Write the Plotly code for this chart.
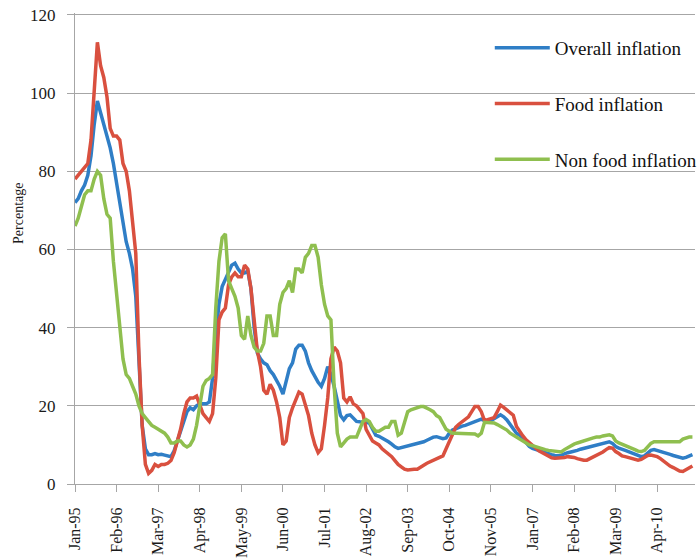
import pandas as pd
import plotly.graph_objects as go

# Month categories (the source series skips Dec-06, so the label after Nov-05 + 13 is Jan-07)
months_a = pd.date_range("1995-01-01", "2006-11-01", freq="MS")
months_b = pd.date_range("2007-01-01", "2011-03-01", freq="MS")
months = [d.strftime("%b-%y") for d in list(months_a) + list(months_b)]

tick_labels = ["Jan-95", "Feb-96", "Mar-97", "Apr-98", "May-99", "Jun-00", "Jul-01",
               "Aug-02", "Sep-03", "Oct-04", "Nov-05", "Jan-07", "Feb-08", "Mar-09", "Apr-10"]
y_ticks = [0, 20, 40, 60, 80, 100, 120]

overall = [72, 73, 75, 76.5, 79, 84, 92, 98, 95, 92,
           89, 86, 82, 77, 72, 66, 62, 59, 55, 48,
           30, 15, 9, 7.5, 7.5, 7.8, 7.5, 7.6, 7.4, 7.2,
           7, 8.5, 11, 13.5, 16, 18.5, 19.5, 19, 20, 20.5,
           20.5, 20.5, 21, 27, 38, 46, 50.5, 52.5, 54, 56,
           56.5, 55, 54, 54, 54.5, 50, 40, 33.5, 32, 31,
           30.5, 29, 28, 26.5, 25, 23, 26, 29.5, 31, 34.5,
           35.5, 35.5, 34, 31, 29, 27.5, 26, 25, 27, 30,
           28, 25, 21, 17.5, 16.4, 17.5, 17.7, 16.8, 16, 15.9,
           15.9, 15.8, 15.6, 14, 12.5, 12.2, 11.8, 11.4, 10.8, 10.2,
           9.5, 9.1, 9.3, 9.5, 9.8, 10, 10.2, 10.4, 10.6, 10.8,
           11.2, 11.6, 12, 12.1, 11.9, 11.6, 11.8, 13, 13.8, 14.2,
           14.5, 14.8, 15, 15.3, 15.6, 15.8, 16.3, 16.6, 16.2, 16,
           16.2, 16.6, 17.2, 17.7, 17.2, 16.4, 15.2, 14, 13, 12.5,
           11.5, 10.5, 9.6, 9.1, 8.8, 8.5, 8.2, 8, 7.8, 7.5,
           7.3, 7.2, 7.4, 7.8, 8, 8.2, 8.3, 8.6, 8.9, 9.1,
           9.3, 9.5, 9.8, 10, 10.3, 10.5, 10.7, 10.8, 10.4, 9.6,
           9.2, 8.8, 8.6, 8.3, 8, 7.6, 7.3, 7, 7.2, 7.9,
           8.6, 8.8, 8.6, 8.3, 8, 7.8, 7.6, 7.3, 7, 6.8,
           6.6, 6.8, 7.2, 7.5]

food = [78, 79, 80, 81, 82, 88, 100, 113, 107, 104,
        99, 91, 89, 89, 88, 82, 80, 75, 67, 59,
        33, 15, 5, 2.7, 3.5, 5, 4.5, 5, 5, 5.3,
        6, 8, 11, 14, 18, 21, 22, 22, 22.5, 20,
        18, 17, 16, 18, 27, 42, 44, 45, 51, 53,
        54, 53, 53, 56, 55, 50, 42, 34, 30, 24,
        23, 25.5, 24, 21, 17, 10, 11, 17, 19.5, 21.5,
        23.5, 23, 20, 17.5, 13, 10, 8, 9, 15, 22,
        32, 35, 34, 31, 22, 21, 22.3, 20.5, 20, 19,
        18, 14, 12.5, 11, 10.5, 10, 9, 8.3, 7.8, 7,
        6, 5, 4.4, 3.8, 3.6, 3.8, 3.8, 3.8, 4.2, 4.8,
        5.3, 5.7, 6.1, 6.6, 7, 7.2, 9, 11, 13, 14.5,
        15.3, 16, 16.5, 17.2, 18.5, 19.8, 19.8, 18.5, 16.2, 16.5,
        16.8, 17, 18.5, 20.2, 19.6, 19, 18.2, 17.6, 14.7, 13.4,
        12.3, 11.3, 10.5, 9.8, 9.2, 8.5, 8, 7.5, 7, 6.7,
        6.6, 6.6, 6.7, 6.8, 7, 7, 6.8, 6.5, 6.2, 6.1,
        6.1, 6.5, 7, 7.4, 7.6, 8.2, 8.8, 9.3, 9.2, 8.3,
        7.8, 7.2, 7, 6.8, 6.5, 6.2, 6.1, 6.3, 6.8, 7.3,
        7.4, 7.3, 7, 6.5, 5.8, 5.2, 4.6, 4.2, 3.8, 3.3,
        3.2, 3.6, 4.2, 4.6]

nonfood = [66, 68, 71, 74, 75, 75, 78, 80, 79, 73,
           69, 68, 57, 48, 40, 32, 28, 27, 25, 23,
           20, 18, 17, 16, 15, 14.5, 14, 13.5, 13, 12,
           10.5, 10.5, 11, 11, 10, 9.5, 10, 11.5, 15, 20,
           25, 26.5, 27, 28, 45, 57, 63, 64, 52, 50,
           48, 45, 38, 37, 43, 38, 35, 34, 34, 36,
           43, 43, 38, 38, 46, 49, 50, 52, 49, 55,
           55, 54, 58, 59, 61, 61, 58, 51, 46, 43,
           42, 25, 13, 9.5, 10.5, 11.5, 12, 12, 12, 14,
           16, 16.5, 16, 14.5, 13.5, 13.5, 14, 14.5, 14.5, 16,
           16, 12.5, 13, 16, 18.5, 19, 19.3, 19.5, 19.8, 19.8,
           19.5, 19, 18.5, 17.5, 17, 15.5, 14, 13.5, 13, 13,
           13, 13, 13, 13, 12.8, 12.8, 12.3, 13, 15.8, 15.8,
           15.8, 15.6, 15.2, 14.8, 14.3, 13.8, 13, 12.5, 12, 11.5,
           11, 10.5, 10, 9.8, 9.5, 9.2, 9, 8.8, 8.6, 8.5,
           8.3, 8.2, 8.2, 8.8, 9.3, 9.8, 10.2, 10.5, 10.8, 11,
           11.3, 11.5, 11.8, 12, 12, 12.3, 12.5, 12.6, 12.3, 11,
           10.5, 10.2, 9.8, 9.5, 9.2, 8.8, 8.4, 8.3, 8.6, 9.5,
           10.4, 10.8, 10.8, 10.7, 10.6, 10.7, 10.8, 10.6, 10.6, 10.8,
           11.5, 11.8, 12, 12]

series = [
    ("Overall inflation", overall, "#2f7ec6"),
    ("Food inflation", food, "#d9503f"),
    ("Non food inflation", nonfood, "#8fbf4f"),
]

SERIF = "Liberation Serif, Times New Roman, serif"
TXT = "#1a1a1a"
GRID = "#a6a6a6"

fig = go.Figure()
for i, (name, vals, col) in enumerate(series):
    fig.add_trace(go.Scatter(
        x=months[:len(vals)], y=vals, mode="lines", name=name,
        line=dict(color=col, width=3.5), legendgroup=f"g{i}",
    ))

fig.update_layout(
    width=714, height=560,
    margin=dict(l=75, r=16, t=13, b=76),
    paper_bgcolor="white", plot_bgcolor="white",
    font=dict(family=SERIF, size=14, color=TXT),
    showlegend=True,
    legend=dict(
        x=0.669, y=0.966, xanchor="left", yanchor="top",
        bgcolor="rgba(0,0,0,0)", font=dict(family=SERIF, size=19, color="#111111"),
        itemwidth=55, tracegroupgap=28, traceorder="grouped",
    ),
    xaxis=dict(
        type="category", range=[0, 193.8], automargin=False,
        tickmode="array", tickvals=tick_labels, ticktext=tick_labels,
        tickangle=-90, ticks="outside", ticklen=7, tickcolor=GRID,
        ticklabelstandoff=9, ticklabeloverflow="allow",
        showline=True, linecolor=GRID, linewidth=1,
        showgrid=False, tickfont=dict(family=SERIF, size=16, color=TXT),
    ),
    yaxis=dict(
        range=[0, 120.5], tickmode="array", tickvals=y_ticks, automargin=False,
        showgrid=True, gridcolor=GRID, gridwidth=1,
        showline=True, linecolor=GRID, linewidth=1,
        ticks="outside", ticklen=7, tickcolor=GRID, ticklabelstandoff=8,
        ticklabeloverflow="allow",
        zeroline=False, tickfont=dict(family=SERIF, size=17, color=TXT),
    ),
    annotations=[dict(
        text="Percentage", textangle=-90, xref="paper", yref="paper",
        x=-0.0915, y=0.574, xanchor="center", yanchor="middle", showarrow=False,
        font=dict(family=SERIF, size=14, color=TXT),
    )],
)

# remove the default page margin so the figure sits at the window's top-left corner
fig.write_html("out.html", config={"displayModeBar": False},
               post_script="document.body.style.margin='0px';")
